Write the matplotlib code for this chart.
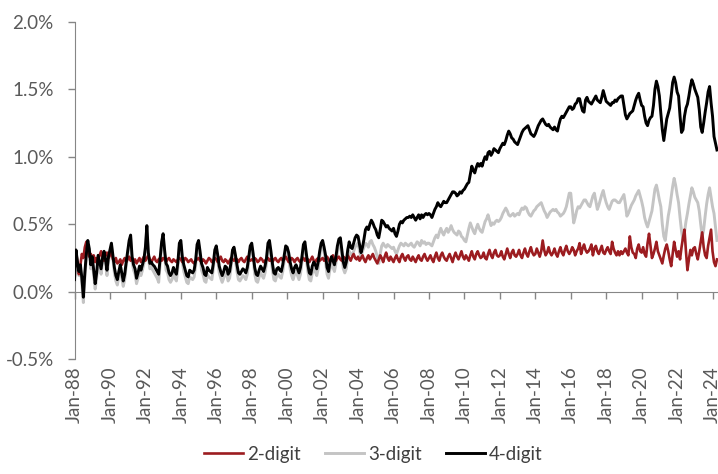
import numpy as np
import matplotlib.pyplot as plt

plt.rcParams['font.family'] = ['Lato', 'DejaVu Sans']

tick_labels = ['Jan-88', 'Jan-90', 'Jan-92', 'Jan-94', 'Jan-96', 'Jan-98', 'Jan-00',
               'Jan-02', 'Jan-04', 'Jan-06', 'Jan-08', 'Jan-10', 'Jan-12', 'Jan-14',
               'Jan-16', 'Jan-18', 'Jan-20', 'Jan-22', 'Jan-24']

# monthly shares in %, from Jan-88 to Apr-24, one row per year
two_digit = [
    0.31, 0.30, 0.22, 0.13, 0.20, 0.28, 0.25, 0.33, 0.37, 0.30, 0.26, 0.28,
    0.25, 0.27, 0.22, 0.25, 0.24, 0.27, 0.30, 0.25, 0.23, 0.28, 0.29, 0.25,
    0.27, 0.30, 0.24, 0.22, 0.25, 0.21, 0.22, 0.24, 0.20, 0.23, 0.25, 0.22,
    0.24, 0.26, 0.23, 0.25, 0.22, 0.24, 0.21, 0.23, 0.25, 0.22, 0.24, 0.26,
    0.23, 0.25, 0.27, 0.24, 0.22, 0.24, 0.26, 0.23, 0.22, 0.24, 0.25, 0.23,
    0.25, 0.24, 0.22, 0.24, 0.25, 0.23, 0.22, 0.24, 0.23, 0.22, 0.24, 0.25,
    0.24, 0.22, 0.23, 0.25, 0.24, 0.22, 0.23, 0.24, 0.22, 0.21, 0.23, 0.24,
    0.25, 0.23, 0.22, 0.24, 0.23, 0.21, 0.23, 0.25, 0.24, 0.22, 0.23, 0.25,
    0.24, 0.22, 0.24, 0.26, 0.23, 0.22, 0.24, 0.23, 0.21, 0.23, 0.25, 0.24,
    0.23, 0.25, 0.24, 0.22, 0.24, 0.25, 0.23, 0.22, 0.24, 0.26, 0.24, 0.23,
    0.24, 0.23, 0.25, 0.24, 0.22, 0.23, 0.25, 0.24, 0.22, 0.23, 0.24, 0.25,
    0.23, 0.24, 0.22, 0.24, 0.25, 0.23, 0.22, 0.24, 0.25, 0.23, 0.24, 0.26,
    0.24, 0.22, 0.23, 0.25, 0.24, 0.22, 0.24, 0.25, 0.23, 0.22, 0.24, 0.25,
    0.23, 0.25, 0.24, 0.22, 0.24, 0.26, 0.23, 0.22, 0.24, 0.25, 0.23, 0.24,
    0.25, 0.23, 0.24, 0.26, 0.24, 0.22, 0.25, 0.27, 0.24, 0.23, 0.25, 0.26,
    0.24, 0.23, 0.26, 0.25, 0.23, 0.27, 0.25, 0.23, 0.26, 0.28, 0.25, 0.24,
    0.26, 0.23, 0.25, 0.27, 0.24, 0.22, 0.25, 0.27, 0.24, 0.26, 0.28, 0.25,
    0.23, 0.21, 0.24, 0.27, 0.25, 0.22, 0.26, 0.29, 0.25, 0.23, 0.26, 0.24,
    0.22, 0.25, 0.27, 0.24, 0.22, 0.26, 0.28, 0.25, 0.23, 0.26, 0.27, 0.24,
    0.23, 0.26, 0.24, 0.22, 0.25, 0.27, 0.24, 0.23, 0.26, 0.28, 0.25, 0.23,
    0.25, 0.27, 0.24, 0.22, 0.26, 0.29, 0.25, 0.23, 0.27, 0.29, 0.26, 0.24,
    0.23, 0.26, 0.28, 0.25, 0.22, 0.26, 0.29, 0.26, 0.24, 0.27, 0.30, 0.26,
    0.24, 0.27, 0.25, 0.23, 0.27, 0.30, 0.26, 0.24, 0.28, 0.30, 0.27, 0.25,
    0.26, 0.29, 0.25, 0.24, 0.28, 0.31, 0.27, 0.25, 0.29, 0.31, 0.27, 0.26,
    0.27, 0.30, 0.26, 0.24, 0.28, 0.32, 0.28, 0.25, 0.29, 0.31, 0.27, 0.26,
    0.28, 0.31, 0.27, 0.25, 0.29, 0.32, 0.28, 0.26, 0.30, 0.33, 0.29, 0.27,
    0.28, 0.32, 0.29, 0.26, 0.30, 0.38, 0.31, 0.27, 0.29, 0.33, 0.29, 0.27,
    0.29, 0.32, 0.28, 0.26, 0.30, 0.33, 0.29, 0.27, 0.31, 0.34, 0.30, 0.28,
    0.30, 0.33, 0.31, 0.27, 0.30, 0.32, 0.36, 0.28, 0.32, 0.35, 0.31, 0.29,
    0.30, 0.32, 0.35, 0.27, 0.32, 0.34, 0.30, 0.28, 0.31, 0.34, 0.29, 0.28,
    0.31, 0.33, 0.30, 0.28, 0.37, 0.32, 0.29, 0.27, 0.30, 0.27, 0.30, 0.28,
    0.30, 0.32, 0.29, 0.27, 0.41, 0.33, 0.29, 0.28, 0.25, 0.32, 0.35, 0.30,
    0.29, 0.33, 0.28, 0.26, 0.36, 0.43, 0.34, 0.25, 0.28, 0.32, 0.37, 0.30,
    0.27, 0.24, 0.21, 0.27, 0.32, 0.35, 0.30, 0.24, 0.19, 0.28, 0.37, 0.31,
    0.26, 0.30, 0.24, 0.33, 0.40, 0.46, 0.30, 0.16, 0.24, 0.31, 0.27, 0.32,
    0.33, 0.28, 0.24, 0.30, 0.37, 0.44, 0.33, 0.27, 0.25, 0.34, 0.40, 0.46,
    0.30, 0.22, 0.19, 0.24,
]

three_digit = [
    0.06, 0.27, 0.20, 0.12, 0.17, 0.06, -0.08, 0.10, 0.25, 0.35, 0.30, 0.17,
    0.23, 0.12, 0.02, 0.10, 0.24, 0.19, 0.13, 0.22, 0.27, 0.21, 0.12, 0.22,
    0.28, 0.34, 0.24, 0.14, 0.08, 0.05, 0.11, 0.17, 0.10, 0.04, 0.09, 0.19,
    0.27, 0.36, 0.40, 0.22, 0.16, 0.13, 0.06, 0.10, 0.15, 0.12, 0.16, 0.21,
    0.30, 0.46, 0.26, 0.17, 0.18, 0.16, 0.14, 0.12, 0.10, 0.07, 0.21, 0.34,
    0.40, 0.27, 0.16, 0.14, 0.09, 0.07, 0.09, 0.13, 0.10, 0.08, 0.18, 0.33,
    0.35, 0.22, 0.15, 0.11, 0.07, 0.06, 0.11, 0.10, 0.09, 0.11, 0.19, 0.32,
    0.35, 0.26, 0.16, 0.13, 0.08, 0.07, 0.13, 0.11, 0.10, 0.09, 0.17, 0.28,
    0.31, 0.23, 0.14, 0.10, 0.07, 0.10, 0.14, 0.13, 0.08, 0.10, 0.18, 0.28,
    0.30, 0.23, 0.15, 0.09, 0.08, 0.10, 0.12, 0.11, 0.09, 0.13, 0.22, 0.31,
    0.33, 0.24, 0.13, 0.08, 0.07, 0.11, 0.14, 0.12, 0.10, 0.14, 0.21, 0.33,
    0.35, 0.26, 0.16, 0.09, 0.08, 0.12, 0.13, 0.11, 0.10, 0.15, 0.23, 0.31,
    0.30, 0.25, 0.17, 0.12, 0.09, 0.13, 0.15, 0.12, 0.09, 0.13, 0.22, 0.32,
    0.34, 0.24, 0.15, 0.09, 0.08, 0.14, 0.17, 0.15, 0.12, 0.17, 0.26, 0.33,
    0.35, 0.29, 0.22, 0.13, 0.10, 0.17, 0.21, 0.18, 0.15, 0.21, 0.29, 0.35,
    0.36, 0.27, 0.17, 0.14, 0.17, 0.25, 0.30, 0.28, 0.27, 0.30, 0.33, 0.35,
    0.36, 0.30, 0.26, 0.30, 0.33, 0.36, 0.35, 0.33, 0.37, 0.38, 0.35, 0.33,
    0.30, 0.26, 0.21, 0.28, 0.34, 0.36, 0.34, 0.33, 0.35, 0.34, 0.33, 0.32,
    0.33, 0.30, 0.28, 0.31, 0.34, 0.36, 0.35, 0.34, 0.36, 0.35, 0.34, 0.35,
    0.36, 0.34, 0.33, 0.35, 0.37, 0.36, 0.34, 0.38, 0.36, 0.37, 0.35, 0.36,
    0.36, 0.35, 0.34, 0.37, 0.40, 0.42, 0.40, 0.44, 0.47, 0.44, 0.42, 0.45,
    0.47, 0.44, 0.46, 0.49, 0.46, 0.44, 0.43, 0.42, 0.45, 0.44, 0.41, 0.40,
    0.38, 0.37, 0.42, 0.47, 0.51, 0.48, 0.45, 0.43, 0.47, 0.50, 0.47, 0.45,
    0.44, 0.48, 0.52, 0.54, 0.57, 0.53, 0.49, 0.51, 0.50, 0.52, 0.53, 0.52,
    0.53, 0.55, 0.58, 0.60, 0.62, 0.60, 0.57, 0.56, 0.57, 0.58, 0.56, 0.57,
    0.58, 0.57, 0.60, 0.62, 0.61, 0.63, 0.62, 0.59, 0.57, 0.56, 0.58, 0.60,
    0.61, 0.63, 0.64, 0.65, 0.66, 0.63, 0.60, 0.58, 0.55, 0.57, 0.59, 0.60,
    0.61, 0.60, 0.61, 0.59, 0.58, 0.56, 0.57, 0.58, 0.60, 0.63, 0.68, 0.73,
    0.73, 0.62, 0.51, 0.55, 0.60, 0.63, 0.62, 0.64, 0.66, 0.68, 0.68, 0.66,
    0.64, 0.63, 0.67, 0.71, 0.73, 0.67, 0.61, 0.64, 0.68, 0.72, 0.75, 0.70,
    0.66, 0.63, 0.61, 0.64, 0.67, 0.68, 0.68, 0.67, 0.66, 0.66, 0.68, 0.70,
    0.72, 0.65, 0.56, 0.58, 0.61, 0.64, 0.66, 0.68, 0.71, 0.73, 0.75, 0.71,
    0.67, 0.62, 0.55, 0.51, 0.48, 0.52, 0.56, 0.60, 0.68, 0.76, 0.79, 0.74,
    0.68, 0.63, 0.50, 0.41, 0.38, 0.47, 0.56, 0.62, 0.70, 0.78, 0.84, 0.79,
    0.72, 0.66, 0.55, 0.45, 0.38, 0.44, 0.52, 0.58, 0.65, 0.71, 0.77, 0.74,
    0.70, 0.68, 0.66, 0.60, 0.50, 0.41, 0.46, 0.56, 0.65, 0.72, 0.77, 0.70,
    0.63, 0.58, 0.48, 0.38,
]

four_digit = [
    0.09, 0.31, 0.22, 0.15, 0.20, 0.10, -0.04, 0.14, 0.28, 0.38, 0.32, 0.20,
    0.26, 0.16, 0.06, 0.14, 0.27, 0.22, 0.17, 0.25, 0.30, 0.24, 0.16, 0.26,
    0.31, 0.36, 0.27, 0.18, 0.12, 0.09, 0.15, 0.20, 0.14, 0.08, 0.13, 0.22,
    0.30, 0.38, 0.42, 0.26, 0.20, 0.17, 0.10, 0.14, 0.19, 0.16, 0.20, 0.24,
    0.33, 0.49, 0.29, 0.21, 0.22, 0.20, 0.19, 0.17, 0.15, 0.13, 0.25, 0.37,
    0.43, 0.31, 0.21, 0.19, 0.14, 0.12, 0.14, 0.18, 0.15, 0.13, 0.22, 0.36,
    0.38, 0.26, 0.20, 0.16, 0.12, 0.11, 0.16, 0.15, 0.14, 0.16, 0.23, 0.35,
    0.38, 0.30, 0.21, 0.18, 0.13, 0.12, 0.18, 0.16, 0.15, 0.14, 0.21, 0.31,
    0.34, 0.27, 0.19, 0.15, 0.12, 0.15, 0.19, 0.18, 0.13, 0.15, 0.22, 0.31,
    0.33, 0.27, 0.20, 0.14, 0.13, 0.15, 0.17, 0.16, 0.14, 0.18, 0.26, 0.34,
    0.36, 0.28, 0.18, 0.13, 0.12, 0.16, 0.19, 0.17, 0.15, 0.19, 0.25, 0.36,
    0.38, 0.30, 0.21, 0.14, 0.13, 0.17, 0.18, 0.16, 0.15, 0.20, 0.27, 0.34,
    0.33, 0.29, 0.22, 0.17, 0.14, 0.18, 0.20, 0.17, 0.14, 0.18, 0.26, 0.35,
    0.37, 0.28, 0.20, 0.14, 0.13, 0.19, 0.22, 0.20, 0.17, 0.22, 0.30, 0.36,
    0.38, 0.33, 0.27, 0.18, 0.15, 0.22, 0.26, 0.23, 0.20, 0.26, 0.34, 0.39,
    0.40, 0.31, 0.22, 0.18, 0.22, 0.31, 0.37, 0.33, 0.32, 0.36, 0.40, 0.42,
    0.41, 0.35, 0.29, 0.33, 0.39, 0.46, 0.48, 0.46, 0.50, 0.53, 0.51, 0.48,
    0.46, 0.42, 0.40, 0.46, 0.53, 0.52, 0.50, 0.48, 0.49, 0.47, 0.46, 0.45,
    0.47, 0.43, 0.41, 0.45, 0.50, 0.52, 0.51, 0.53, 0.54, 0.55, 0.55, 0.56,
    0.55, 0.57, 0.55, 0.53, 0.55, 0.57, 0.54, 0.57, 0.55, 0.57, 0.58, 0.57,
    0.58, 0.57, 0.55, 0.58, 0.61, 0.63, 0.66, 0.64, 0.63, 0.65, 0.67, 0.66,
    0.66, 0.68, 0.70, 0.72, 0.74, 0.74, 0.73, 0.71, 0.72, 0.74, 0.73, 0.75,
    0.76, 0.78, 0.80, 0.81, 0.87, 0.93, 0.90, 0.88, 0.92, 0.95, 0.93, 0.95,
    0.93, 0.97, 1.00, 0.98, 1.03, 1.04, 1.01, 1.03, 1.06, 1.05, 1.04, 1.03,
    1.06, 1.08, 1.10, 1.09, 1.12, 1.16, 1.19, 1.17, 1.14, 1.13, 1.11, 1.10,
    1.09, 1.12, 1.15, 1.18, 1.20, 1.21, 1.22, 1.23, 1.20, 1.17, 1.16, 1.15,
    1.17, 1.20, 1.23, 1.25, 1.27, 1.28, 1.26, 1.24, 1.23, 1.24, 1.22, 1.21,
    1.20, 1.22, 1.20, 1.19, 1.24, 1.28, 1.30, 1.29, 1.31, 1.33, 1.35, 1.37,
    1.37, 1.35, 1.36, 1.39, 1.40, 1.43, 1.43, 1.38, 1.34, 1.33, 1.42, 1.44,
    1.41, 1.40, 1.39, 1.41, 1.43, 1.45, 1.42, 1.41, 1.40, 1.44, 1.49, 1.45,
    1.41, 1.40, 1.39, 1.38, 1.40, 1.40, 1.42, 1.41, 1.43, 1.44, 1.45, 1.45,
    1.38, 1.31, 1.28, 1.30, 1.32, 1.33, 1.34, 1.38, 1.42, 1.45, 1.47, 1.42,
    1.38, 1.37, 1.30, 1.25, 1.23, 1.27, 1.29, 1.30, 1.38, 1.50, 1.56, 1.52,
    1.45, 1.32, 1.20, 1.12, 1.20, 1.28, 1.32, 1.36, 1.45, 1.55, 1.59, 1.55,
    1.48, 1.45, 1.30, 1.18, 1.20, 1.30, 1.36, 1.39, 1.45, 1.52, 1.57, 1.54,
    1.50, 1.47, 1.44, 1.35, 1.22, 1.18, 1.25, 1.33, 1.40, 1.48, 1.52, 1.40,
    1.30, 1.15, 1.10, 1.05,
]

months = np.arange(len(four_digit))
tick_pos = np.arange(0, 24 * len(tick_labels), 24)

fig = plt.figure(figsize=(7.18, 4.74), dpi=100)
ax = fig.add_axes([74.5 / 718, 1 - 359.3 / 474, 1 - 74.5 / 718, (359.3 - 21.7) / 474])

ax.plot(months, three_digit, color='#c4c4c4', lw=2.1, zorder=2, label='3-digit')
ax.plot(months, two_digit, color='#9c1c20', lw=1.9, zorder=3, label='2-digit')
ax.plot(months, four_digit, color='black', lw=2.1, zorder=4, label='4-digit')

ax.set_xlim(0, 435.7)
ax.set_ylim(-0.5, 2.0)
ax.set_yticks(np.arange(-0.5, 2.01, 0.5))
ax.set_yticklabels([f'{v:.1f}%' for v in np.arange(-0.5, 2.01, 0.5)])

axis_col = '#868686'
text_col = '#595959'
for s in ['top', 'right']:
    ax.spines[s].set_visible(False)
ax.spines['left'].set_color(axis_col)
ax.spines['bottom'].set_color(axis_col)
ax.spines['bottom'].set_position(('data', 0))

ax.tick_params(axis='y', direction='out', length=5, width=1, color=axis_col,
               labelsize=13.5, labelcolor=text_col, pad=10)
ax.set_xticks(tick_pos)
ax.tick_params(axis='x', direction='out', length=5, width=1, color=axis_col,
               labelbottom=False)

# date labels sit under the plot area, not at the zero line
sec = ax.secondary_xaxis(0.0)
sec.set_xticks(tick_pos)
sec.set_xticklabels(tick_labels, rotation=90)
sec.tick_params(length=0, pad=5, labelsize=13.5, labelcolor=text_col)
sec.spines['bottom'].set_visible(False)

h, l = ax.get_legend_handles_labels()
order = [1, 0, 2]
fig.legend([h[i] for i in order], [l[i] for i in order], loc='lower center',
           bbox_to_anchor=(0.52, -0.012), ncol=3, frameon=False, fontsize=13.5,
           handlelength=2.1, handletextpad=0.2, columnspacing=1.3,
           labelcolor='#404040')

fig.savefig('out.png', dpi=100)
